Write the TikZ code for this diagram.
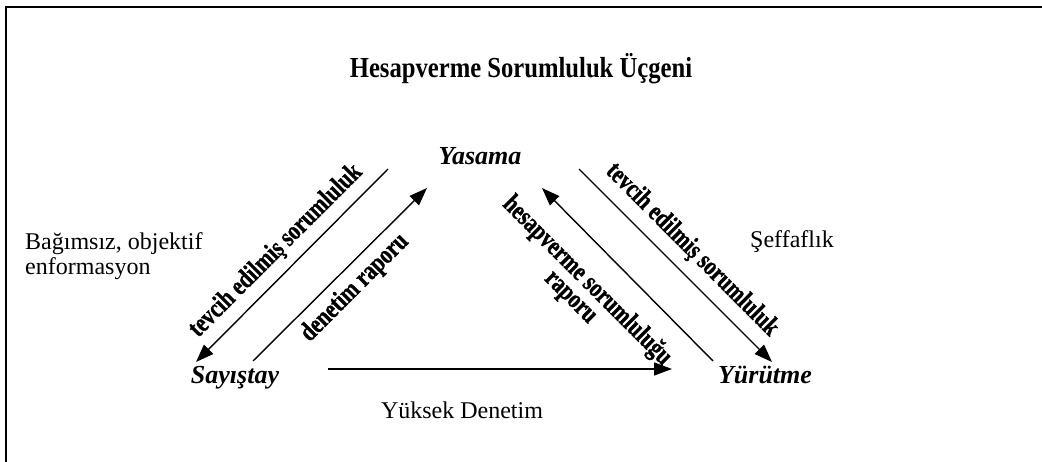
\documentclass[tikz,border=0pt]{standalone}
\usepackage{fontspec}
\setmainfont{Liberation Serif}
\newfontface\heavylabel{Liberation Serif Bold}[FakeBold=1.2]
\usetikzlibrary{arrows.meta}
\begin{document}
\begin{tikzpicture}[x=1pt,y=-1pt,
  conn/.style={line width=1.4pt,-{Triangle[length=18pt,width=13pt]}},
  actor/.style={font=\fontsize{26}{28}\selectfont\bfseries\itshape, inner sep=0pt, anchor=base},
  plain/.style={font=\fontsize{24}{25}\selectfont, inner sep=0pt, anchor=base},
  flow/.style={font=\fontsize{27}{27}\selectfont\heavylabel, inner sep=0pt, align=center},
  frame/.style={line width=2pt}]
\useasboundingbox (0,0) rectangle (1042,462);
% frame (top and left edges visible)
\draw[frame] (6,462) -- (6,7) -- (1042,7);
% title
\node[font=\fontsize{29}{30}\selectfont\bfseries, inner sep=0pt, anchor=base] (title) at (521,78) {\scalebox{0.85}[1]{Hesapverme Sorumluluk Üçgeni}};
% actors
\node[actor] (yasama) at (480,165) {Yasama};
\node[actor] (sayistay) at (235,384) {Sayıştay};
\node[actor] (yurutme) at (765,384) {Yürütme};
% side texts
\node[plain, anchor=base west] (bagimsiz) at (25,250) {Bağımsız, objektif};
\node[plain, anchor=base west] (enform) at (25,275) {enformasyon};
\node[plain, anchor=base west] (seffaf) at (750,248) {Şeffaflık};
\node[plain] (yuksek) at (462,418) {Yüksek Denetim};
% arrow ends
\coordinate (lo1) at (388,169); \coordinate (lo2) at (196,362);
\coordinate (li1) at (253,361); \coordinate (li2) at (427,188);
\coordinate (ro1) at (579,169); \coordinate (ro2) at (772,362);
\coordinate (ri1) at (713,361); \coordinate (ri2) at (542,188);
\coordinate (h1) at (328,369);  \coordinate (h2) at (672,369);
% arrows
\draw[conn] (lo1) -- (lo2);
\draw[conn] (li1) -- (li2);
\draw[conn] (ro1) -- (ro2);
\draw[conn] (ri1) -- (ri2);
\draw[conn] (h1) -- (h2);
% arrow labels
\node[flow, rotate=45] (tevL) at (276,251) {\scalebox{0.78}[1]{tevcih edilmiş sorumluluk}};
\node[flow, rotate=45] (denR) at (355,288) {\scalebox{0.78}[1]{denetim raporu}};
\node[flow, rotate=-45] (tevR) at (692,250) {\scalebox{0.78}[1]{tevcih edilmiş sorumluluk}};
\node[flow, rotate=-45] (hesR) at (578,290) {\scalebox{0.78}[1]{\begin{tabular}{@{}c@{}}hesapverme sorumluluğu\\[-4pt]raporu\end{tabular}}};
\end{tikzpicture}
\end{document}
